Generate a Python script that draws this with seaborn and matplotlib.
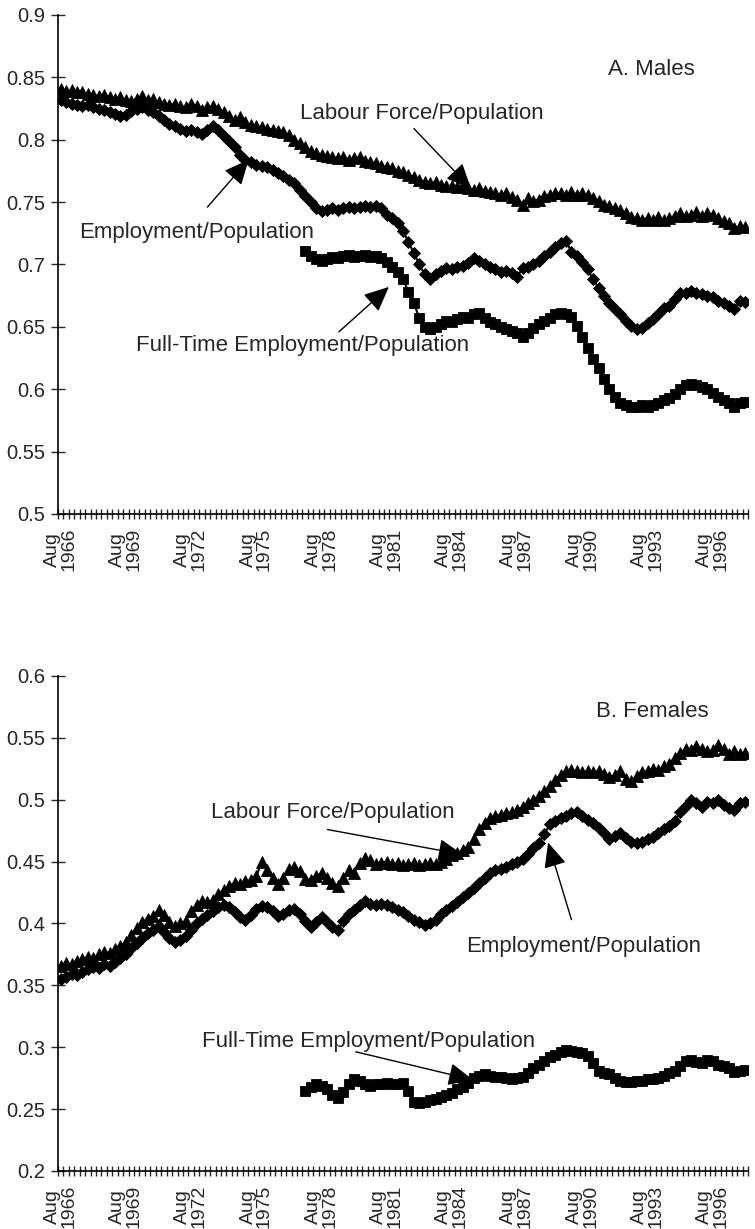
import numpy as np
import matplotlib
matplotlib.use("Agg")
import matplotlib.pyplot as plt
import seaborn as sns

# Quarterly observations, Aug 1966 onwards
tick_labels = ["Aug\n1966", "Aug\n1969", "Aug\n1972", "Aug\n1975", "Aug\n1978", "Aug\n1981",
               "Aug\n1984", "Aug\n1987", "Aug\n1990", "Aug\n1993", "Aug\n1996"]
ft_start = 45  # first quarter with full-time data

male_lf = [0.841, 0.839, 0.840, 0.838, 0.838, 0.837, 0.836, 0.835, 0.836, 0.834, 0.833, 0.834,
           0.832, 0.831, 0.833, 0.835, 0.832, 0.833, 0.830, 0.829, 0.828, 0.829, 0.827, 0.826,
           0.829, 0.827, 0.824, 0.826, 0.827, 0.825, 0.822, 0.819, 0.816, 0.818, 0.814, 0.812,
           0.811, 0.810, 0.809, 0.808, 0.807, 0.806, 0.804, 0.800, 0.797, 0.794, 0.791, 0.789,
           0.788, 0.787, 0.786, 0.785, 0.786, 0.784, 0.785, 0.786, 0.783, 0.782, 0.781, 0.779,
           0.778, 0.777, 0.775, 0.774, 0.772, 0.770, 0.768, 0.766, 0.765, 0.766, 0.764, 0.763,
           0.763, 0.762, 0.764, 0.761, 0.760, 0.761, 0.759, 0.758, 0.757, 0.756, 0.757, 0.754,
           0.752, 0.748, 0.753, 0.751, 0.752, 0.755, 0.756, 0.757, 0.757, 0.756, 0.758, 0.756,
           0.757, 0.756, 0.753, 0.751, 0.748, 0.747, 0.745, 0.744, 0.741, 0.738, 0.737, 0.736,
           0.737, 0.736, 0.738, 0.736, 0.737, 0.739, 0.741, 0.739, 0.740, 0.742, 0.739, 0.741,
           0.740, 0.737, 0.735, 0.733, 0.729, 0.731, 0.730]

male_emp = [0.832, 0.830, 0.829, 0.828, 0.827, 0.828, 0.826, 0.825, 0.824, 0.822, 0.821, 0.819,
            0.820, 0.823, 0.825, 0.826, 0.824, 0.822, 0.819, 0.816, 0.813, 0.811, 0.809, 0.807,
            0.808, 0.806, 0.805, 0.808, 0.811, 0.808, 0.803, 0.799, 0.794, 0.788, 0.784, 0.782,
            0.780, 0.779, 0.778, 0.776, 0.773, 0.771, 0.768, 0.765, 0.760, 0.755, 0.750, 0.745,
            0.743, 0.744, 0.745, 0.744, 0.745, 0.746, 0.745, 0.746, 0.747, 0.746, 0.747, 0.745,
            0.740, 0.737, 0.733, 0.727, 0.718, 0.709, 0.700, 0.692, 0.688, 0.692, 0.695, 0.697,
            0.696, 0.698, 0.699, 0.701, 0.705, 0.703, 0.700, 0.698, 0.696, 0.694, 0.695, 0.693,
            0.690, 0.697, 0.698, 0.700, 0.703, 0.707, 0.710, 0.714, 0.717, 0.719, 0.710, 0.707,
            0.702, 0.696, 0.688, 0.681, 0.675, 0.669, 0.664, 0.660, 0.655, 0.651, 0.648, 0.649,
            0.653, 0.656, 0.660, 0.665, 0.667, 0.672, 0.677, 0.677, 0.679, 0.677, 0.676, 0.675,
            0.674, 0.671, 0.669, 0.667, 0.664, 0.671, 0.670]

male_ft = [0.711, 0.707, 0.704,
           0.703, 0.704, 0.706, 0.705, 0.707, 0.708, 0.706, 0.707, 0.708, 0.706, 0.707, 0.705,
           0.702, 0.698, 0.694, 0.688, 0.678, 0.669, 0.657, 0.650, 0.648, 0.650, 0.652, 0.655,
           0.654, 0.656, 0.658, 0.657, 0.660, 0.661, 0.657, 0.654, 0.652, 0.650, 0.648, 0.647,
           0.645, 0.642, 0.645, 0.649, 0.652, 0.655, 0.657, 0.660, 0.661, 0.660, 0.658, 0.651,
           0.642, 0.633, 0.624, 0.617, 0.608, 0.600, 0.594, 0.589, 0.587, 0.586, 0.586, 0.587,
           0.586, 0.587, 0.589, 0.591, 0.593, 0.596, 0.600, 0.603, 0.604, 0.603, 0.602, 0.600,
           0.597, 0.594, 0.591, 0.589, 0.586, 0.589, 0.590]

female_lf = [0.366, 0.368, 0.367, 0.370, 0.371, 0.373, 0.372, 0.375, 0.377, 0.376, 0.379, 0.382,
             0.385, 0.391, 0.396, 0.401, 0.404, 0.406, 0.411, 0.407, 0.401, 0.398, 0.400, 0.402,
             0.410, 0.415, 0.418, 0.417, 0.419, 0.424, 0.427, 0.430, 0.433, 0.432, 0.434, 0.435,
             0.438, 0.450, 0.443, 0.437, 0.432, 0.437, 0.444, 0.446, 0.442, 0.436, 0.435, 0.438,
             0.441, 0.437, 0.433, 0.430, 0.437, 0.443, 0.441, 0.449, 0.453, 0.451, 0.448, 0.449,
             0.450, 0.448, 0.449, 0.447, 0.448, 0.449, 0.447, 0.448, 0.449, 0.448, 0.450, 0.452,
             0.455, 0.457, 0.459, 0.462, 0.468, 0.476, 0.481, 0.485, 0.487, 0.488, 0.489, 0.490,
             0.492, 0.494, 0.497, 0.500, 0.503, 0.507, 0.511, 0.516, 0.520, 0.523, 0.524, 0.523,
             0.522, 0.523, 0.522, 0.523, 0.521, 0.518, 0.520, 0.523, 0.517, 0.515, 0.519, 0.522,
             0.523, 0.525, 0.524, 0.527, 0.529, 0.534, 0.538, 0.541, 0.540, 0.543, 0.541, 0.539,
             0.540, 0.544, 0.541, 0.537, 0.539, 0.537, 0.538]

female_emp = [0.355, 0.357, 0.359, 0.358, 0.361, 0.363, 0.365, 0.364, 0.367, 0.366, 0.369, 0.372,
              0.375, 0.380, 0.384, 0.388, 0.392, 0.395, 0.398, 0.393, 0.388, 0.385, 0.387, 0.390,
              0.395, 0.400, 0.404, 0.407, 0.410, 0.413, 0.415, 0.413, 0.409, 0.405, 0.403, 0.407,
              0.412, 0.414, 0.413, 0.410, 0.406, 0.408, 0.411, 0.412, 0.408, 0.402, 0.397, 0.401,
              0.405, 0.401, 0.397, 0.395, 0.402, 0.408, 0.411, 0.415, 0.418, 0.416, 0.415, 0.416,
              0.415, 0.413, 0.411, 0.409, 0.406, 0.403, 0.401, 0.399, 0.400, 0.403, 0.408, 0.411,
              0.414, 0.417, 0.421, 0.425, 0.429, 0.433, 0.437, 0.441, 0.443, 0.444, 0.446, 0.448,
              0.450, 0.452, 0.456, 0.461, 0.465, 0.472, 0.480, 0.483, 0.485, 0.487, 0.489, 0.490,
              0.487, 0.484, 0.481, 0.477, 0.473, 0.468, 0.471, 0.473, 0.469, 0.466, 0.465, 0.466,
              0.468, 0.470, 0.473, 0.476, 0.479, 0.483, 0.490, 0.495, 0.500, 0.497, 0.494, 0.498,
              0.497, 0.500, 0.496, 0.493, 0.492, 0.497, 0.498]

female_ft = [0.265, 0.268, 0.270,
             0.269, 0.266, 0.261, 0.259, 0.264, 0.270, 0.274, 0.273, 0.270, 0.269, 0.270, 0.270,
             0.271, 0.270, 0.270, 0.271, 0.265, 0.256, 0.255, 0.256, 0.257, 0.258, 0.260, 0.261,
             0.263, 0.266, 0.268, 0.271, 0.275, 0.277, 0.278, 0.277, 0.276, 0.276, 0.275, 0.274,
             0.275, 0.276, 0.279, 0.283, 0.286, 0.289, 0.292, 0.294, 0.296, 0.298, 0.297, 0.296,
             0.295, 0.293, 0.287, 0.281, 0.279, 0.278, 0.275, 0.273, 0.272, 0.272, 0.273, 0.273,
             0.274, 0.274, 0.275, 0.277, 0.279, 0.281, 0.285, 0.289, 0.290, 0.288, 0.287, 0.290,
             0.289, 0.286, 0.285, 0.283, 0.280, 0.281, 0.282]

sns.set_style("ticks")
plt.rcParams['font.family'] = ['Liberation Sans', 'DejaVu Sans']

fig = plt.figure(figsize=(7.55, 12.29), dpi=100)
ax1 = fig.add_axes([0.0768, 0.5818, 0.914, 0.406])
ax2 = fig.add_axes([0.0768, 0.0472, 0.914, 0.4028])

n = len(male_lf)
x_all = np.arange(n)
x_ft = np.arange(ft_start, n)


def draw(ax, lf, emp, ft):
    sns.lineplot(x=x_all, y=lf, ax=ax, color='black', lw=1.5, marker='^', markersize=8.5,
                 markeredgecolor='black', markeredgewidth=0.6)
    sns.lineplot(x=x_all, y=emp, ax=ax, color='black', lw=1.5, marker='D', markersize=6,
                 markeredgecolor='black', markeredgewidth=0.6)
    sns.lineplot(x=x_ft, y=ft, ax=ax, color='black', lw=1.5, marker='s', markersize=7.5,
                 markeredgecolor='black', markeredgewidth=0.6)
    ax.set_xlim(-0.5, n - 0.5)
    ax.set_xticks(np.arange(0, n, 12))
    ax.set_xticklabels(tick_labels, rotation=90, fontsize=14, linespacing=0.95)
    ax.set_xticks(np.arange(-0.5, n, 1), minor=True)
    ax.tick_params(axis='x', which='major', length=0, pad=10)
    ax.tick_params(axis='x', which='minor', length=7, direction='inout', width=1)
    ax.tick_params(axis='y', which='major', length=10, direction='inout', width=1,
                   labelsize=14.5, pad=4)
    for s in ['top', 'right']:
        ax.spines[s].set_visible(False)
    for s in ['left', 'bottom']:
        ax.spines[s].set_linewidth(1.2)
        ax.spines[s].set_color('black')
    ax.yaxis.set_major_formatter(matplotlib.ticker.FuncFormatter(lambda v, p: f"{v:g}"))
    ax.set_xlabel('')
    ax.set_ylabel('')


draw(ax1, male_lf, male_emp, male_ft)
ax1.set_ylim(0.5, 0.9)
ax1.set_yticks(np.arange(0.5, 0.9001, 0.05))

draw(ax2, female_lf, female_emp, female_ft)
ax2.set_ylim(0.2, 0.6)
ax2.set_yticks(np.arange(0.2, 0.6001, 0.05))

arrow = dict(arrowstyle='-|>,head_length=0.55,head_width=0.25', color='black', lw=1,
             mutation_scale=28, shrinkA=0, shrinkB=0)
fs = 16

ax1.text(108.7, 0.856, "A. Males", fontsize=fs, ha='center', va='center')
ax1.text(66.5, 0.821, "Labour Force/Population", fontsize=fs, ha='center', va='center')
ax1.annotate("", xy=(75.5, 0.761), xytext=(65, 0.809), arrowprops=arrow)
ax1.text(25.0, 0.726, "Employment/Population", fontsize=fs, ha='center', va='center')
ax1.annotate("", xy=(34.6, 0.784), xytext=(27, 0.746), arrowprops=arrow)
ax1.text(44.5, 0.635, "Full-Time Employment/Population", fontsize=fs, ha='center', va='center')
ax1.annotate("", xy=(60.4, 0.682), xytext=(51.2, 0.646), arrowprops=arrow)

ax2.text(108.8, 0.571, "B. Females", fontsize=fs, ha='center', va='center')
ax2.text(50.1, 0.4896, "Labour Force/Population", fontsize=fs, ha='center', va='center')
ax2.annotate("", xy=(74, 0.4557), xytext=(49.1, 0.4759), arrowprops=arrow)
ax2.text(96.2, 0.381, "Employment/Population", fontsize=fs, ha='center', va='center')
ax2.annotate("", xy=(89.7, 0.4654), xytext=(94, 0.4031), arrowprops=arrow)
ax2.text(56.7, 0.3044, "Full-Time Employment/Population", fontsize=fs, ha='center', va='center')
ax2.annotate("", xy=(75.9, 0.2736), xytext=(54.3, 0.2963), arrowprops=arrow)

fig.savefig("out.png", dpi=100)
